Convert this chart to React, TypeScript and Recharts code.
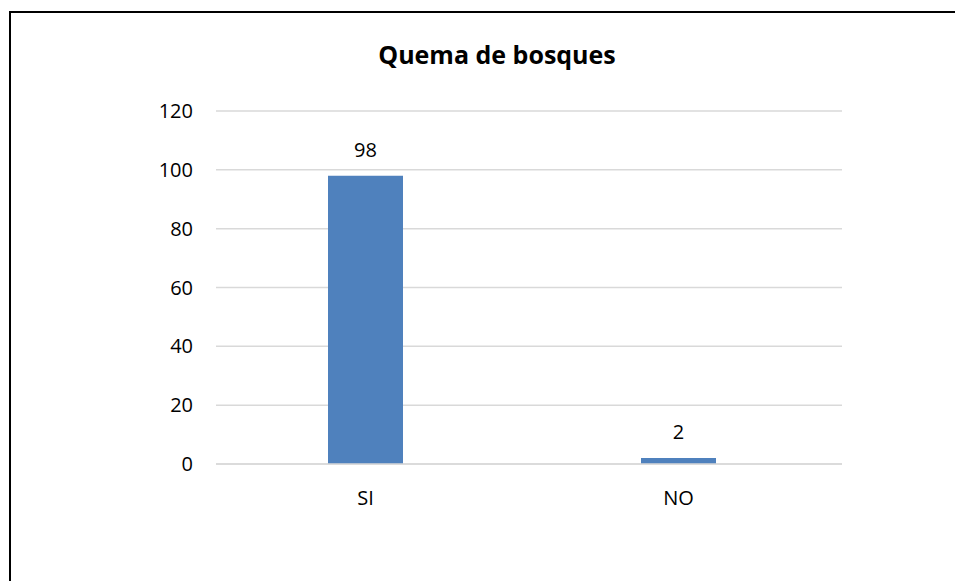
import { BarChart, Bar, XAxis, YAxis, CartesianGrid, LabelList } from "recharts";

const categories = ["SI", "NO"];
const values = [98, 2];
const yTicks = [0, 20, 40, 60, 80, 100, 120];

const data = categories.map((name, i) => ({ name, value: values[i] }));

const font = "'Open Sans', sans-serif";

export default function App() {
  return (
    <div style={{ position: "relative", width: 947, height: 573 }}>
      <style>{"html{overflow:hidden}body{margin:8px;width:990px}"}</style>
      <svg
        width={947}
        height={573}
        style={{ position: "absolute", left: 0, top: 0, overflow: "visible" }}
      >
        <line x1={1} y1={4} x2={960} y2={4} stroke="#000" strokeWidth={2} />
        <line x1={2} y1={3} x2={2} y2={600} stroke="#000" strokeWidth={2} />
      </svg>
      <div
        style={{
          position: "absolute",
          left: 0,
          width: 978,
          top: 29,
          textAlign: "center",
          fontFamily: font,
          fontWeight: 700,
          fontSize: 25,
          color: "#000",
        }}
      >
        Quema de bosques
      </div>
      <div style={{ position: "absolute", left: 0, top: 0 }}>
        <BarChart
          width={947}
          height={573}
          data={data}
          margin={{ top: 103, right: 113, bottom: 87, left: 0 }}
        >
          <CartesianGrid vertical={false} stroke="#d9d9d9" strokeWidth={1.5} />
          <XAxis
            dataKey="name"
            axisLine={{ stroke: "#d9d9d9", strokeWidth: 1.5 }}
            tickLine={false}
            tickSize={0}
            tickMargin={27}
            padding={{ left: -7, right: 7 }}
            tick={{ fill: "#000", fontSize: 20, fontFamily: font }}
          />
          <YAxis
            width={208}
            domain={[0, 120]}
            ticks={yTicks}
            axisLine={false}
            tickLine={false}
            tickSize={0}
            tickMargin={23}
            tick={{ fill: "#000", fontSize: 20, fontFamily: font }}
          />
          <Bar dataKey="value" fill="#4f81bd" barSize={75} isAnimationActive={false}>
            <LabelList
              dataKey="value"
              position="top"
              offset={19}
              style={{ fill: "#000", fontSize: 20, fontFamily: font }}
            />
          </Bar>
        </BarChart>
      </div>
    </div>
  );
}
